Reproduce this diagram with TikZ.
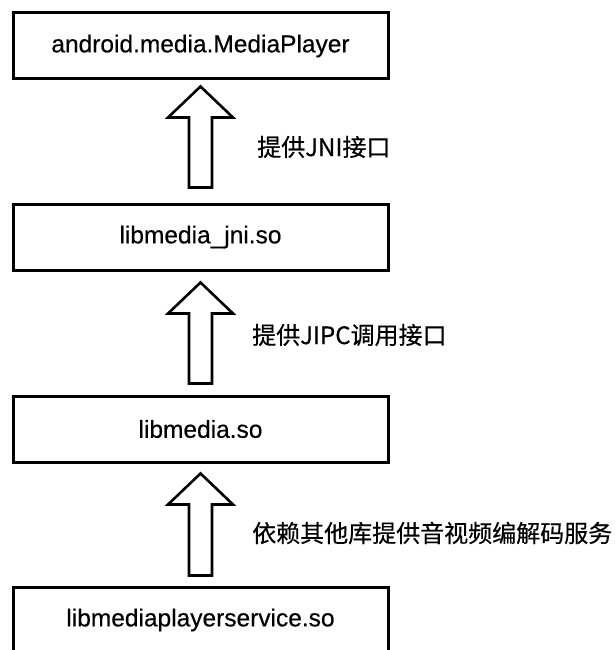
\documentclass[tikz,border=0pt]{standalone}
\usepackage{fontspec}
\setmainfont{Liberation Sans}[FakeBold=0.4]
\newfontfamily\cjk{Noto Sans CJK SC}[FakeBold=0.4]
\usetikzlibrary{calc}
\tikzset{
  layer/.style={draw, line width=3pt, minimum width=375pt, minimum height=66pt,
    inner sep=0pt, font=\fontsize{24.5}{28}\selectfont},
  pipe/.style={draw, line width=2.6pt, line join=miter},
  remark/.style={anchor=west, inner sep=0pt, font=\cjk\fontsize{24}{28}\selectfont}
}
% hollow arrow pointing up: tail, tip
\newcommand{\hollowup}[2]{
  \draw[pipe] let \p1=(#1), \p2=(#2) in
    (\x2,\y2) -- (\x2+32.5pt,\y2-31pt) -- (\x2+11.5pt,\y2-31pt) -- (\x2+11.5pt,\y1)
    -- (\x2-11.5pt,\y1) -- (\x2-11.5pt,\y2-31pt) -- (\x2-32.5pt,\y2-31pt) -- cycle;
}
\begin{document}
\begin{tikzpicture}[x=1pt,y=-1pt]
    \clip (0,0) rectangle (614,650);
    \useasboundingbox (0,0) rectangle (614,650);

    \node[layer] (player) at (200.5,46) {android.media.MediaPlayer};
    \node[layer] (jni) at (200.5,237) {libmedia\_jni.so};
    \node[layer] (media) at (200.5,429) {libmedia.so};
    \node[layer] (service) at (200.5,620) {libmediaplayerservice.so};

    \coordinate (tipA) at ($(player.south)+(0,-6pt)$);
    \coordinate (tailA) at ($(jni.north)+(0,15pt)$);
    \hollowup{tailA}{tipA}
    \node[remark] (jniapi) at (257,147) {提供JNI接口};

    \coordinate (tipB) at ($(jni.south)+(0,-11pt)$);
    \coordinate (tailB) at ($(media.north)+(0,11pt)$);
    \hollowup{tailB}{tipB}
    \node[remark] (ipcapi) at (252,335) {提供JIPC调用接口};

    \coordinate (tipC) at ($(media.south)+(0,-10pt)$);
    \coordinate (tailC) at ($(service.north)+(0,10pt)$);
    \hollowup{tailC}{tipC}
    \node[remark] (codec) at (252,533) {依赖其他库提供音视频编解码服务};
\end{tikzpicture}
\end{document}
